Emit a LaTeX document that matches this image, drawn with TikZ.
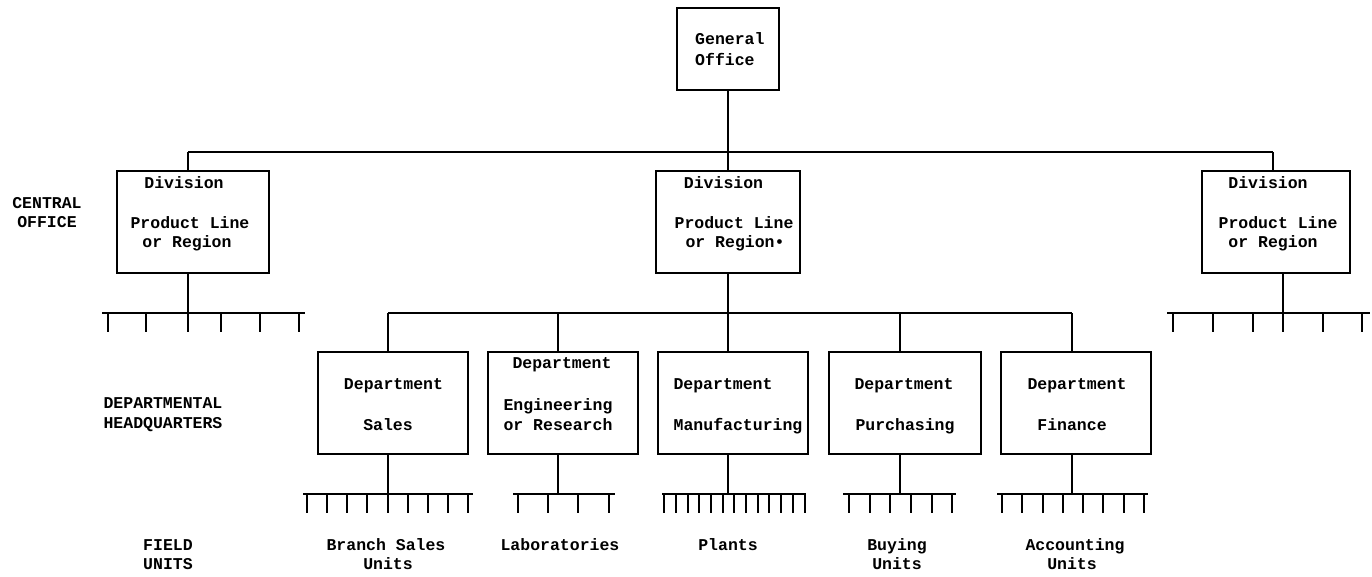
\documentclass[tikz,border=0pt]{standalone}
\usepackage{fontspec}
\newfontfamily\typer{Liberation Mono}
\tikzset{
  txt/.style={inner sep=0pt, anchor=base, font=\typer\bfseries\fontsize{16.5}{20}\selectfont},
  txtw/.style={txt, anchor=base west},
  orgbox/.style={draw, line width=1.2pt, inner sep=0pt},
  wire/.style={line width=1.5pt},
  tine/.style={line width=1.5pt}
}
\begin{document}
\begin{tikzpicture}[x=1pt,y=-1pt]
\useasboundingbox (0,0) rectangle (1372,576);

% ---- boxes ----
\node[orgbox, minimum width=102pt, minimum height=82pt] (go) at (728,49) {};
\node[orgbox, minimum width=152pt, minimum height=102pt] (divL) at (193,222) {};
\node[orgbox, minimum width=144pt, minimum height=102pt] (divM) at (728,222) {};
\node[orgbox, minimum width=148pt, minimum height=102pt] (divR) at (1276,222) {};
\node[orgbox, minimum width=150pt, minimum height=102pt] (sales) at (393,403) {};
\node[orgbox, minimum width=150pt, minimum height=102pt] (eng) at (563,403) {};
\node[orgbox, minimum width=150pt, minimum height=102pt] (mfg) at (733,403) {};
\node[orgbox, minimum width=152pt, minimum height=102pt] (pur) at (905,403) {};
\node[orgbox, minimum width=150pt, minimum height=102pt] (fin) at (1076,403) {};

% ---- box texts ----
\node[txtw] (goA) at (695,44) {General};
\node[txtw] (goB) at (695,65) {Office};

\node[txt] (dlA) at (184,188) {Division};
\node[txt] (dlB) at (190,228) {Product Line};
\node[txt] (dlC) at (187,247) {or Region};

\node[txt] (dmA) at (723.5,188) {Division};
\node[txt] (dmB) at (734,228) {Product Line};
\node[txt] (dmC) at (735,247) {or Region•};

\node[txt] (drA) at (1268,188) {Division};
\node[txt] (drB) at (1278,228) {Product Line};
\node[txt] (drC) at (1273,247) {or Region};

\node[txt] (saA) at (393.5,389) {Department};
\node[txt] (saB) at (388,430) {Sales};
\node[txt] (enA) at (562,368) {Department};
\node[txt] (enB) at (558,410) {Engineering};
\node[txt] (enC) at (558,430) {or Research};
\node[txt] (mfA) at (723,389) {Department};
\node[txt] (mfB) at (738,430) {Manufacturing};
\node[txt] (puA) at (904,389) {Department};
\node[txt] (puB) at (905,430) {Purchasing};
\node[txt] (fiA) at (1077,389) {Department};
\node[txt] (fiB) at (1072,430) {Finance};

% ---- level labels ----
\node[txt] (lvA1) at (47,208) {CENTRAL};
\node[txt] (lvA2) at (47,227) {OFFICE};
\node[txt] (lvB1) at (163,408) {DEPARTMENTAL};
\node[txt] (lvB2) at (163,428) {HEADQUARTERS};
\node[txt] (lvC1) at (168,550) {FIELD};
\node[txt] (lvC2) at (168,569) {UNITS};

% ---- field unit labels ----
\node[txt] (fuA1) at (386,550) {Branch Sales};
\node[txt] (fuA2) at (388,569) {Units};
\node[txt] (fuB) at (560,550) {Laboratories};
\node[txt] (fuC) at (728,550) {Plants};
\node[txt] (fuD1) at (897,550) {Buying};
\node[txt] (fuD2) at (897,569) {Units};
\node[txt] (fuE1) at (1075,550) {Accounting};
\node[txt] (fuE2) at (1072,569) {Units};

% ---- general office to divisions ----
\coordinate (tbL) at (188,152);
\coordinate (tbR) at (1273,152);
\draw[wire] (go.south) -- (go.south |- tbL);
\draw[wire] (tbL) -- (tbR);
\draw[wire] (tbL) -- (tbL |- divL.north);
\draw[wire] (go.south |- tbL) -- (divM.north);
\draw[wire] (tbR) -- (tbR |- divR.north);

% ---- outer divisions: field unit combs ----
\coordinate (cL) at (188,313);
\draw[wire] (cL |- divL.south) -- (cL);
\draw[wire] (102,313) -- (305,313);
\foreach \x in {108,146,188,221,260,299} \draw[tine] (\x,313) -- (\x,332);

\coordinate (cR) at (1283,313);
\draw[wire] (cR |- divR.south) -- (cR);
\draw[wire] (1167,313) -- (1370,313);
\foreach \x in {1173,1213,1253,1283,1323,1362} \draw[tine] (\x,313) -- (\x,332);

% ---- middle division to departments ----
\coordinate (dbL) at (388,313);
\coordinate (dbR) at (1072,313);
\draw[wire] (divM.south) -- (divM.south |- dbL);
\draw[wire] (dbL) -- (dbR);
\foreach \x/\n in {388/sales,558/eng,728/mfg,900/pur,1072/fin}{
  \coordinate (up-\n) at (\x,313);
  \coordinate (dn-\n) at (\x,494);
  \draw[wire] (up-\n) -- (up-\n |- \n.north);
  \draw[wire] (dn-\n |- \n.south) -- (dn-\n);
}

% ---- department field unit combs ----
\draw[wire] (303,494) -- (473,494);
\foreach \x in {307,327,347,367,388,408,428,448,468} \draw[tine] (\x,494) -- (\x,513);
\draw[wire] (513,494) -- (615,494);
\foreach \x in {518,548,578,609} \draw[tine] (\x,494) -- (\x,513);
\draw[wire] (662,494) -- (806,494);
\foreach \x in {664,676,688,699,711,723,734,746,758,769,781,793,805} \draw[tine] (\x,494) -- (\x,513);
\draw[wire] (843,494) -- (956,494);
\foreach \x in {849,870,890,911,932,952} \draw[tine] (\x,494) -- (\x,513);
\draw[wire] (997,494) -- (1148,494);
\foreach \x in {1002,1022,1043,1063,1083,1103,1124,1144} \draw[tine] (\x,494) -- (\x,513);
\end{tikzpicture}
\end{document}
